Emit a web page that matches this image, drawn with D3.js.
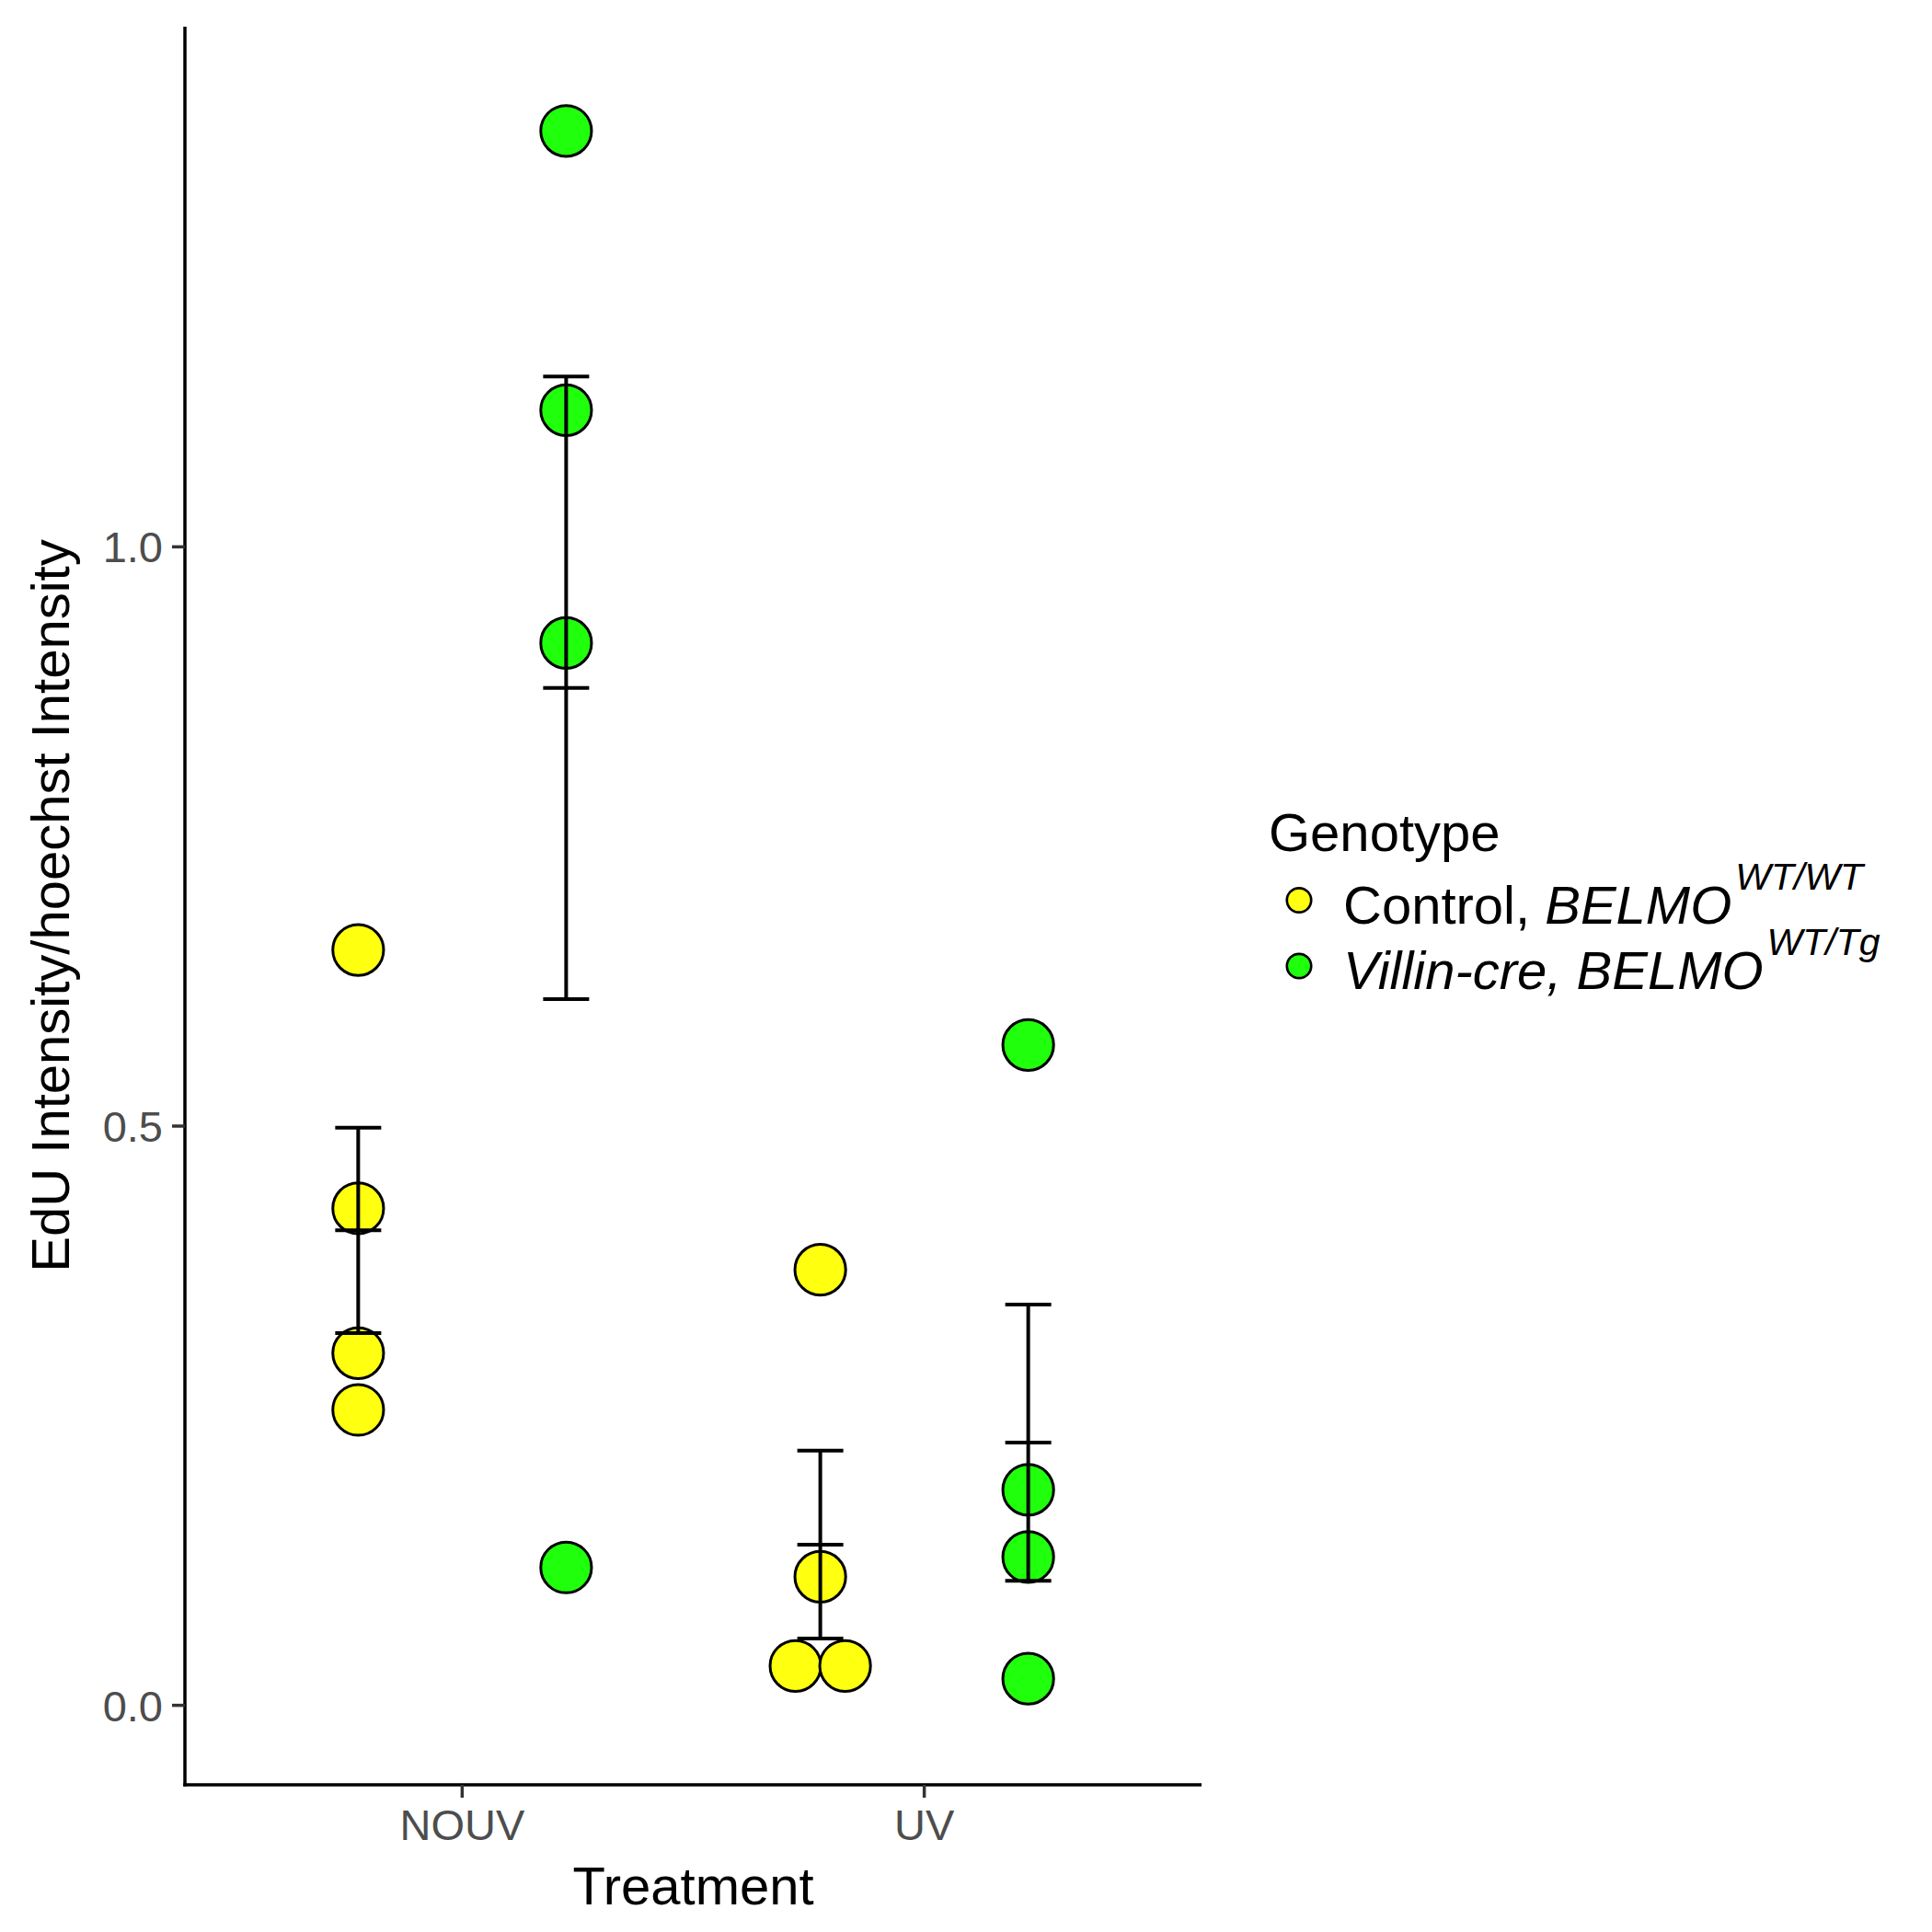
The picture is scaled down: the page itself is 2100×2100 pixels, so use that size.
<!DOCTYPE html>
<html><head><meta charset="utf-8">
<script src="https://cdn.jsdelivr.net/npm/d3@7"></script>
<style>body{margin:0;background:#fff} text{font-family:"Liberation Sans",Arial,Helvetica,sans-serif}</style>
</head><body><svg id="c" width="2100" height="2100" xmlns="http://www.w3.org/2000/svg"></svg>
<script>
// ---- data ----
const treatments = ["NOUV", "UV"];
const genotypes = ["Control", "Villin"];
const controlNOUV = [0.652, 0.429, 0.304, 0.255];
const villinNOUV  = [1.359, 1.118, 0.917, 0.119];
const controlUV   = [0.376, 0.111, 0.034, 0.034];
const villinUV    = [0.570, 0.186, 0.128, 0.023];
const yTicks = [0.0, 0.5, 1.0];
const yTickLabels = ["0.0", "0.5", "1.0"];
const yDomain = [-0.0686, 1.449];
const genotypeColors = ["#FFFF10", "#20FF0C"];
const xTitle = "Treatment";
const yTitle = "EdU Intensity/hoechst Intensity";
const legendTitle = "Genotype";

const groups = [
  {t: "NOUV", g: "Control", vals: controlNOUV},
  {t: "NOUV", g: "Villin",  vals: villinNOUV},
  {t: "UV",   g: "Control", vals: controlUV},
  {t: "UV",   g: "Villin",  vals: villinUV}
];

// ---- layout ----
const svg = d3.select("#c");
const L = 201, R = 1306, T = 29, B = 1940;
const x = d3.scalePoint().domain(treatments).range([L, R]).padding(0.6);
const step = x.step();
const dodge = d3.scaleLinear().domain([0, genotypes.length - 1]).range([-0.225 * step, 0.225 * step]);
const y = d3.scaleLinear().domain(yDomain).range([B, T]);
const color = d3.scaleOrdinal().domain(genotypes).range(genotypeColors);
const r = 27.6;

// points
const pts = svg.append("g");
const bars = svg.append("g");
groups.forEach(gr => {
  const cx = x(gr.t) + dodge(genotypes.indexOf(gr.g));
  // spread exact duplicates side by side
  const counts = d3.rollup(gr.vals, v => v.length, d => d);
  const seen = new Map();
  gr.vals.forEach(v => {
    const n = counts.get(v);
    const k = seen.get(v) || 0; seen.set(v, k + 1);
    const off = (k - (n - 1) / 2) * 54;
    pts.append("circle")
      .attr("cx", cx + off).attr("cy", y(v)).attr("r", r)
      .attr("fill", color(gr.g)).attr("stroke", "#000").attr("stroke-width", 3);
  });
  const m = d3.mean(gr.vals);
  const se = d3.deviation(gr.vals) / Math.sqrt(gr.vals.length);
  const hw = 25;
  bars.append("line").attr("x1", cx).attr("x2", cx).attr("y1", y(m + se)).attr("y2", y(m - se))
    .attr("stroke", "#000").attr("stroke-width", 4);
  [m + se, m, m - se].forEach(v => {
    bars.append("line").attr("x1", cx - hw).attr("x2", cx + hw).attr("y1", y(v)).attr("y2", y(v))
      .attr("stroke", "#000").attr("stroke-width", 4);
  });
});

// axes
const ax = svg.append("g");
ax.append("line").attr("x1", L).attr("x2", L).attr("y1", T).attr("y2", B + 1.75).attr("stroke", "#000").attr("stroke-width", 3.5);
ax.append("line").attr("x1", L - 1.75).attr("x2", R).attr("y1", B).attr("y2", B).attr("stroke", "#000").attr("stroke-width", 3.5);
yTicks.forEach((v, i) => {
  ax.append("line").attr("x1", L - 14).attr("x2", L).attr("y1", y(v)).attr("y2", y(v)).attr("stroke", "#333").attr("stroke-width", 3.5);
  ax.append("text").attr("x", L - 24).attr("y", y(v)).attr("dy", "0.36em").attr("text-anchor", "end")
    .attr("font-size", 47).attr("fill", "#4D4D4D").text(yTickLabels[i]);
});
treatments.forEach(t => {
  ax.append("line").attr("x1", x(t)).attr("x2", x(t)).attr("y1", B).attr("y2", B + 14).attr("stroke", "#333").attr("stroke-width", 3.5);
  ax.append("text").attr("x", x(t)).attr("y", 2000).attr("text-anchor", "middle")
    .attr("font-size", 47).attr("fill", "#4D4D4D").text(t);
});
svg.append("text").attr("x", (L + R) / 2).attr("y", 2070).attr("text-anchor", "middle")
  .attr("font-size", 58).attr("fill", "#000").text(xTitle);
svg.append("text").attr("transform", `translate(75,${(T + B) / 2}) rotate(-90)`).attr("text-anchor", "middle")
  .attr("font-size", 58).attr("fill", "#000").text(yTitle);

// legend
const lg = svg.append("g");
lg.append("text").attr("x", 1379).attr("y", 925).attr("font-size", 58).text(legendTitle);
const legendRows = [
  {g: "Control", parts: [{t: "Control, ", i: false}, {t: "BELMO", i: true}], sup: "WT/WT"},
  {g: "Villin",  parts: [{t: "Villin-cre, BELMO", i: true}], sup: "WT/Tg"}
];
legendRows.forEach((row, k) => {
  const cy = 978.5 + k * 71.5;
  lg.append("circle").attr("cx", 1412).attr("cy", cy).attr("r", 13.2)
    .attr("fill", color(row.g)).attr("stroke", "#000").attr("stroke-width", 2.7);
  const tx = lg.append("text").attr("x", 1460).attr("y", cy + 25).attr("font-size", 58);
  row.parts.forEach(p => tx.append("tspan").attr("font-style", p.i ? "italic" : "normal").text(p.t));
  tx.append("tspan").attr("font-style", "italic").attr("font-size", 41).attr("dy", -37).attr("dx", 4).text(row.sup);
});
</script></body></html>
